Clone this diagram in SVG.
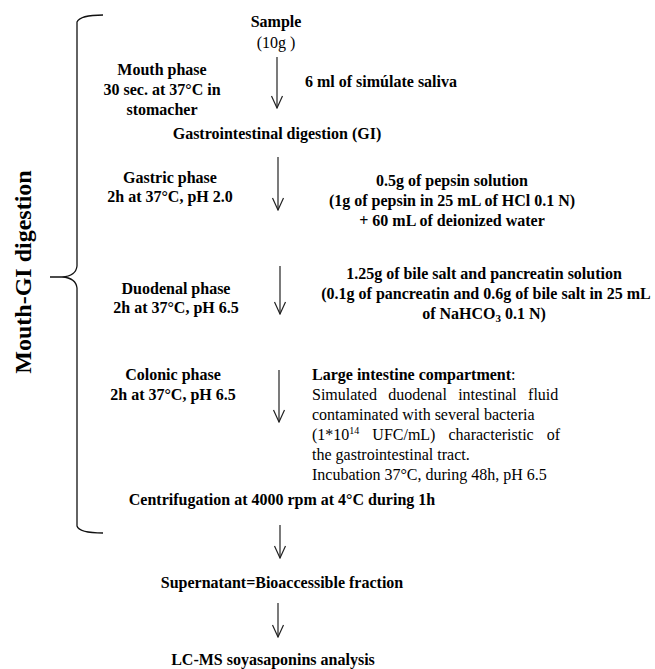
<svg xmlns="http://www.w3.org/2000/svg" width="655" height="669" viewBox="0 0 655 669">
<style>
text{font-family:"Liberation Serif","Times New Roman",serif;font-size:16px;fill:#000}
.b{font-weight:bold}
.c{text-anchor:middle}
.arr{stroke:#222;stroke-width:1.2;fill:none}
.brace{stroke:#111;stroke-width:1.3;fill:none}
</style>
<defs>
<marker id="ah" viewBox="-13 -7 14 14" refX="0" refY="0" markerWidth="14" markerHeight="14" markerUnits="userSpaceOnUse" orient="auto">
<path d="M-12,-5.5 L0,0 L-12,5.5" fill="none" stroke="#222" stroke-width="1.2"/>
</marker>
</defs>
<rect width="655" height="669" fill="#fff"/>
<g id="brace">
<path class="brace" d="M103,15 Q80,15 77,22 L77,266 Q76,276 62,277 L50,277 M62,277 Q76,278 77,288 L77,526 Q79,533 103,533"/>
<text class="b c" transform="translate(31,272) rotate(-90)" style="font-size:24px">Mouth-GI digestion</text>
</g>
<g id="connectors">
<line class="arr" x1="277" y1="57" x2="277" y2="108" marker-end="url(#ah)"/>
<line class="arr" x1="278" y1="157" x2="278" y2="210" marker-end="url(#ah)"/>
<line class="arr" x1="280" y1="266" x2="280" y2="314" marker-end="url(#ah)"/>
<line class="arr" x1="279" y1="370" x2="279" y2="422" marker-end="url(#ah)"/>
<line class="arr" x1="280" y1="525" x2="280" y2="558" marker-end="url(#ah)"/>
<line class="arr" x1="278" y1="603" x2="278" y2="637" marker-end="url(#ah)"/>
</g>
<g id="sample">
<text class="b c" x="276" y="27">Sample</text>
<text class="c" x="276" y="48">(10g )</text>
</g>
<g id="mouth-phase">
<text class="b c" x="162" y="75">Mouth phase</text>
<text class="b c" x="162" y="95">30 sec. at 37°C in</text>
<text class="b c" x="162" y="115">stomacher</text>
</g>
<g id="saliva">
<text class="b" x="305" y="87">6 ml of simúlate saliva</text>
</g>
<g id="gi-digestion">
<text class="b c" x="277" y="139">Gastrointestinal digestion (GI)</text>
</g>
<g id="gastric-phase">
<text class="b c" x="170" y="183">Gastric phase</text>
<text class="b c" x="170" y="202">2h at 37°C, pH 2.0</text>
</g>
<g id="pepsin">
<text class="b c" x="452" y="186">0.5g of pepsin solution</text>
<text class="b c" x="452" y="206">(1g of pepsin in 25 mL of HCl  0.1 N)</text>
<text class="b c" x="452" y="226">+ 60 mL of deionized water</text>
</g>
<g id="duodenal-phase">
<text class="b c" x="176" y="294">Duodenal phase</text>
<text class="b c" x="176" y="313">2h at 37°C, pH 6.5</text>
</g>
<g id="pancreatin">
<text class="b c" x="484" y="279">1.25g of bile salt and pancreatin solution</text>
<text class="b c" x="486" y="299">(0.1g of pancreatin and 0.6g of bile salt in 25 mL</text>
<text class="b c" x="484" y="319">of NaHCO<tspan dy="3" style="font-size:11px">3</tspan><tspan dy="-3"> 0.1 N)</tspan></text>
</g>
<g id="colonic-phase">
<text class="b c" x="173" y="380">Colonic phase</text>
<text class="b c" x="173" y="400">2h at 37°C, pH 6.5</text>
</g>
<g id="large-intestine">
<text x="312" y="380"><tspan class="b">Large intestine compartment</tspan>:</text>
<text x="312" y="400" word-spacing="7.3">Simulated duodenal intestinal fluid</text>
<text x="312" y="420">contaminated with several bacteria</text>
<text x="312" y="440" word-spacing="9">(1*10<tspan dy="-6" style="font-size:10px">14</tspan><tspan dy="6"> UFC/mL) characteristic of</tspan></text>
<text x="312" y="460">the gastrointestinal tract.</text>
<text x="312" y="480">Incubation 37°C, during 48h, pH 6.5</text>
</g>
<g id="centrifugation">
<text class="b c" x="282" y="505">Centrifugation at 4000 rpm at 4°C during 1h</text>
</g>
<g id="supernatant">
<text class="b c" x="282" y="588">Supernatant=Bioaccessible fraction</text>
</g>
<g id="lcms">
<text class="b c" x="273" y="665">LC-MS soyasaponins analysis</text>
</g>
</svg>
